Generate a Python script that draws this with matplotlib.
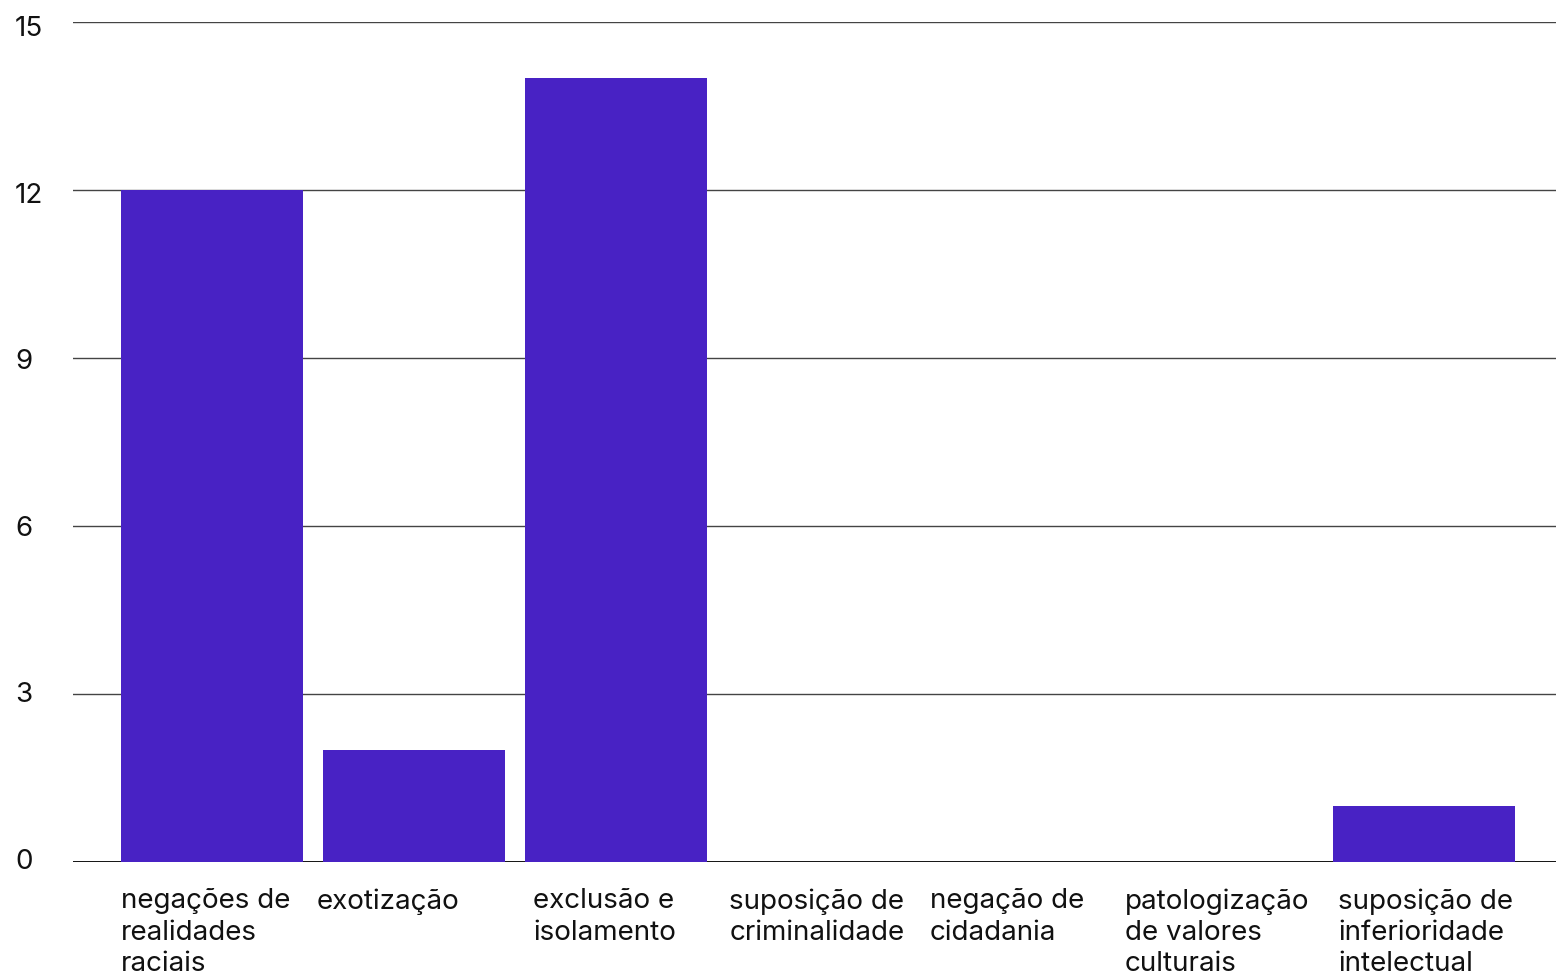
import matplotlib
matplotlib.use("Agg")
import matplotlib.pyplot as plt
import matplotlib.transforms as mtransforms

categories = [
    "negações de\nrealidades\nraciais",
    "exotização",
    "exclusão e\nisolamento",
    "suposição de\ncriminalidade",
    "negação de\ncidadania",
    "patologização\nde valores\nculturais",
    "suposição de\ninferioridade\nintelectual",
]
values = [12, 2, 14, 0, 0, 0, 1]
yticks = [0, 3, 6, 9, 12, 15]
bar_color = "#4822C4"

# small horizontal nudges (points) of each category label
label_nudge = [0, -4.5, 6, 1.5, 0.7, -4.5, 3.6]

plt.rcParams['font.family'] = ['Inter', 'DejaVu Sans']

fig = plt.figure(figsize=(15.6, 9.77), dpi=100)
ax = fig.add_axes([73/1560, 1-862/977, (1556-73)/1560, (862-22)/977])

x = list(range(len(values)))
ax.bar(x, values, width=0.9, color=bar_color, zorder=3)

ax.set_xlim(-0.688, 6.653)
ax.set_ylim(0, 15)
ax.set_yticks([])
ax.set_xticks([])
for yt in yticks:
    ax.axhline(yt, color='#444444' if yt else '#000000', lw=1.0 if yt else 1.3, zorder=2)
for s in ax.spines.values():
    s.set_visible(False)

blend = mtransforms.blended_transform_factory(fig.transFigure, ax.transData)
ymax = max(yticks)
for yt in yticks:
    shift = -7 * yt / ymax / 100
    tr = blend + mtransforms.ScaledTranslation(0, shift, fig.dpi_scale_trans)
    ax.text(15/1560, yt, str(yt), transform=tr, ha='left', va='center',
            fontsize=20, color='#111111')

for xi, lab, nd in zip(x, categories, label_nudge):
    ax.annotate(lab, xy=(xi - 0.45, 0), xycoords=('data', 'data'),
                xytext=(nd, -19), textcoords='offset points',
                ha='left', va='top', fontsize=20, linespacing=1.26,
                color='#111111', annotation_clip=False)

fig.savefig("out.png", dpi=100)
